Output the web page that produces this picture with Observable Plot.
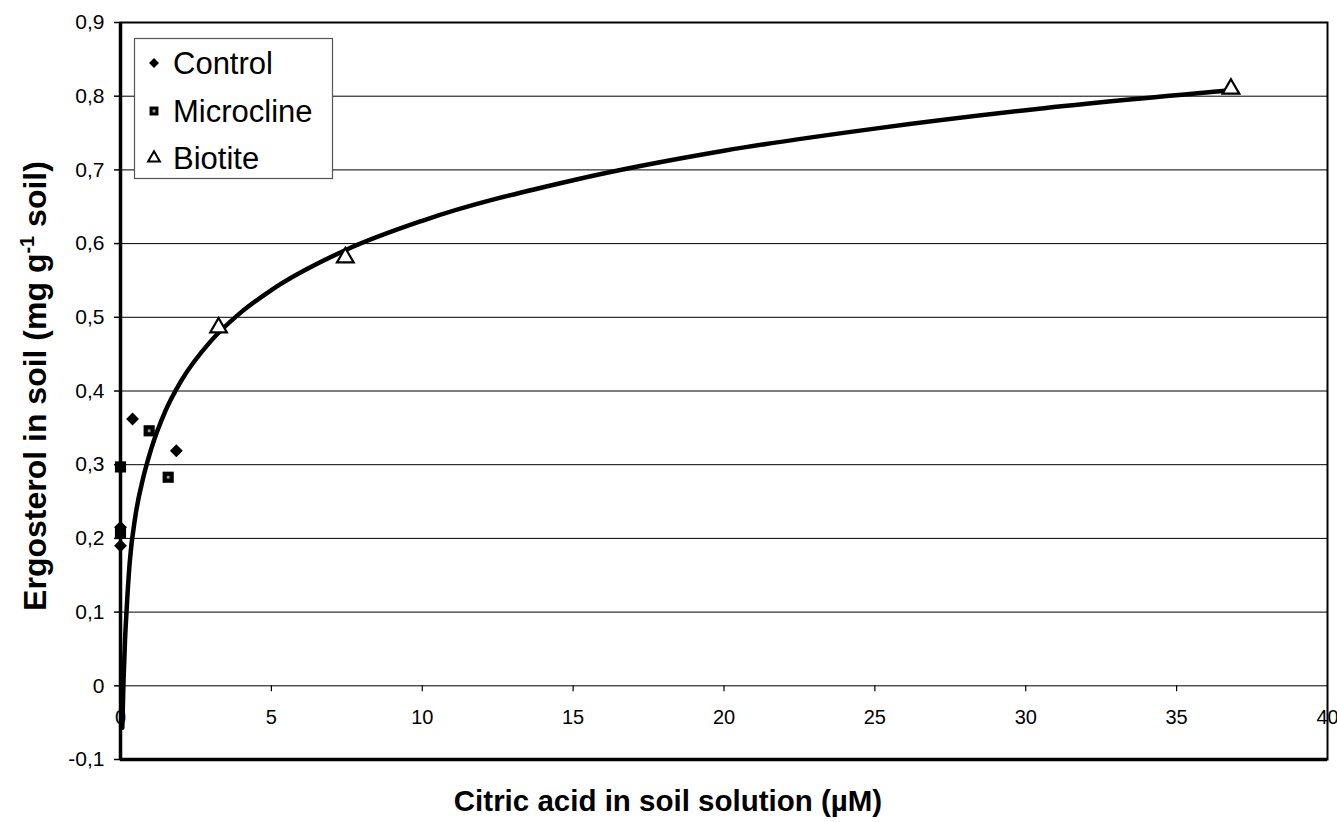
<!DOCTYPE html>
<html>
<head>
<meta charset="utf-8">
<script src="https://cdn.jsdelivr.net/npm/d3@7"></script>
<script src="https://cdn.jsdelivr.net/npm/@observablehq/plot@0.6"></script>
<style>
  html, body { margin: 0; padding: 0; background: white; }
  svg { display: block; }
</style>
</head>
<body>
<div id="chart"></div>
<script>
// ---- data ----
const controlX = [0, 0, 0.4, 1.85];
const controlY = [0.19, 0.215, 0.362, 0.319];

const microclineX = [0, 0, 0.95, 1.58];
const microclineY = [0.207, 0.297, 0.346, 0.283];

const biotiteX = [3.25, 7.45, 36.8];
const biotiteY = [0.486, 0.581, 0.81];

// fitted trend curve
const trendX = [0.06, 0.1, 0.15, 0.2, 0.3, 0.5, 0.75, 1, 1.5, 2, 3, 4, 5, 7.5, 10, 15, 20, 25, 30, 36.8];
const trendY = [-0.057, 0.006, 0.062, 0.101, 0.165, 0.232, 0.282, 0.319, 0.374, 0.413, 0.468, 0.507, 0.537, 0.592, 0.631, 0.686, 0.726, 0.756, 0.781, 0.808];

const xTicks = [0, 5, 10, 15, 20, 25, 30, 35, 40];
const yTicks = [-0.1, 0, 0.1, 0.2, 0.3, 0.4, 0.5, 0.6, 0.7, 0.8, 0.9];
const gridY = [0, 0.1, 0.2, 0.3, 0.4, 0.5, 0.6, 0.7, 0.8];

const seriesNames = ["Control", "Microcline", "Biotite"];
const xTitle = "Citric acid in soil solution (µM)";

// ---- tables built from the arrays ----
const control = controlX.map((x, i) => ({x, y: controlY[i]}));
const microcline = microclineX.map((x, i) => ({x, y: microclineY[i]}));
const biotite = biotiteX.map((x, i) => ({x, y: biotiteY[i]}));
const trend = trendX.map((x, i) => ({x, y: trendY[i]}));

const fmt = d => Math.abs(d) < 1e-9 ? "0" : d.toFixed(1).replace(".", ",");
const FONT = "'Liberation Sans', Arial, sans-serif";

const chart = Plot.plot({
  width: 1337,
  height: 822,
  marginLeft: 120,
  marginRight: 10,
  marginTop: 22,
  marginBottom: 63,
  style: {fontFamily: FONT, background: "white", color: "black"},
  x: {domain: [0, 40], axis: null},
  y: {domain: [-0.1, 0.9], axis: null},
  marks: [
    Plot.ruleY(gridY, {stroke: "black", strokeWidth: 1}),
    Plot.axisY(yTicks, {tickSize: 6, tickPadding: 10, fontSize: 21, tickFormat: fmt, stroke: "black", strokeWidth: 1.5, label: null}),
    Plot.ruleX(xTicks.slice(1, -1), {y1: 0, y2: 0, insetBottom: -6, stroke: "black", strokeWidth: 1.2}),
    Plot.text(xTicks, {x: d => d, y: 0, dy: 32, text: d => String(d), fontSize: 20, fill: "black"}),
    Plot.line(trend, {x: "x", y: "y", stroke: "black", strokeWidth: 4.5, curve: "monotone-x"}),
    Plot.dot(control, {x: "x", y: "y", symbol: "diamond2", r: 5.8, fill: "black", stroke: "none"}),
    Plot.dot(microcline, {x: "x", y: "y", symbol: "square", r: 6.3, fill: "black", stroke: "none"}),
    Plot.dot(microcline, {x: "x", y: "y", symbol: "square", r: 1.6, fill: "#9a9a9a", stroke: "none"}),
    Plot.dot(biotite, {x: "x", y: "y", symbol: "triangle", r: 6.2, fill: "white", stroke: "black", strokeWidth: 2.2}),
    Plot.frame({stroke: "black", strokeWidth: 2}),
    Plot.ruleX([0], {stroke: "black", strokeWidth: 3.5}),
    Plot.ruleY([-0.1], {stroke: "black", strokeWidth: 3.5})
  ]
});

document.getElementById("chart").appendChild(chart);

// ---- titles and legend ----
const svg = d3.select(chart);

svg.append("text")
  .attr("x", 668).attr("y", 811)
  .attr("text-anchor", "middle")
  .attr("font-family", FONT).attr("font-weight", "bold").attr("font-size", 29.5)
  .attr("fill", "black")
  .text(xTitle);

const yt = svg.append("text")
  .attr("transform", "translate(46,386) rotate(-90)")
  .attr("text-anchor", "middle")
  .attr("font-family", FONT).attr("font-weight", "bold").attr("font-size", 32)
  .attr("fill", "black");
yt.append("tspan").text("Ergosterol in soil (mg g");
yt.append("tspan").attr("dy", -12).attr("font-size", 20).text("-1");
yt.append("tspan").attr("dy", 12).text(" soil)");

const lg = svg.append("g");
lg.append("rect")
  .attr("x", 134.5).attr("y", 38.5).attr("width", 198).attr("height", 140)
  .attr("fill", "white").attr("stroke", "#555").attr("stroke-width", 1.2);

const legendY = [63, 111, 158];
seriesNames.forEach((name, i) => {
  const g = lg.append("g").attr("transform", `translate(154,${legendY[i]})`);
  if (i === 0) {
    g.append("path").attr("d", d3.symbol(d3.symbolDiamond2, 64)()).attr("fill", "black");
  } else if (i === 1) {
    g.append("path").attr("d", d3.symbol(d3.symbolSquare, 80)()).attr("fill", "black");
    g.append("path").attr("d", d3.symbol(d3.symbolSquare, 8)()).attr("fill", "#9a9a9a");
  } else {
    g.append("path").attr("d", d3.symbol(d3.symbolTriangle, 60)()).attr("fill", "white").attr("stroke", "black").attr("stroke-width", 2);
  }
  lg.append("text")
    .attr("x", 173).attr("y", legendY[i]).attr("dy", "0.36em")
    .attr("text-anchor", "start")
    .attr("font-family", FONT).attr("font-size", 31).attr("fill", "black")
    .text(name);
});
</script>
</body>
</html>
